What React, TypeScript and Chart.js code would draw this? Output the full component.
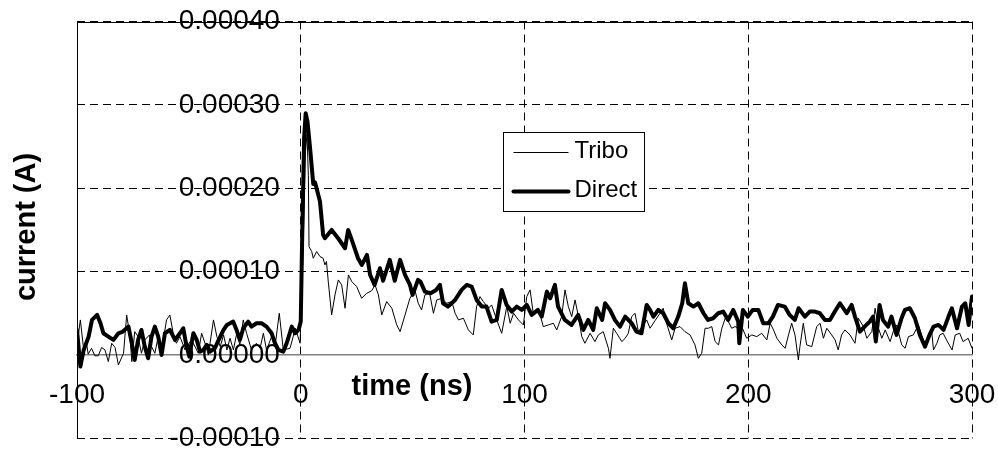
import React, { useEffect, useRef } from "react";
import { Chart, registerables } from "chart.js";

Chart.register(...registerables);

// time in ns, current in units of 1e-5 A
const tDirect = [
  -100, -98.5, -97, -94.8, -93.3, -91, -89.5, -88.2, -86, -83.7, -81.5, -79.5, -77, -75.5, -74.2, -72.7, -71.2,
  -69.7, -68.2, -66.7, -65.2, -63.7, -62.2, -60.7, -58.5, -56.2, -54, -52.5, -51.3, -49.8, -48, -46.5, -45, -43.5,
  -42, -40.6, -38.4, -36, -34.5, -33, -31.6, -30.2, -28.7, -27.2, -25.7, -23.5, -22, -19.8, -17.5, -15.3, -13,
  -11.5, -10, -7.8, -6.3, -4, -2.5, -1, 0, 0.5, 1.5, 2.2, 3, 4.1, 5.6, 6.4, 8.6, 10, 10.8, 13.8, 16.7, 19.8, 21.2,
  22.8, 25.6, 27.3, 29.6, 31, 33, 35.4, 36.8, 39.8, 42, 44.4, 46.6, 48.8, 50, 52.4, 53.5, 55.5, 58, 60.5, 62.2,
  63.6, 65.8, 69, 71.9, 74.2, 76.4, 78.6, 80.9, 83, 85.3, 87.6, 89.8, 92, 94.3, 96.5, 98.8, 101, 103.2, 106, 107.7,
  110, 111.5, 113.6, 115, 118, 121, 124, 126.3, 128.5, 130.7, 132.3, 134.7, 136, 138.2, 140.4, 142.7, 145, 147.9,
  150, 152.3, 154.6, 156.1, 157.6, 159.8, 162, 164.3, 166.5, 168.7, 170.5, 171.7, 173.2, 175.5, 177.7, 180, 182,
  184.3, 186.6, 188.8, 191, 193.3, 195.5, 196, 197.6, 199.8, 202, 204.5, 206.7, 209, 211, 213.3, 216.3, 218.5,
  220.8, 222.5, 225.3, 227.5, 229.8, 232, 234.3, 236.5, 238.7, 241, 242.5, 244, 246.2, 247.7, 249.9, 252, 254.3,
  255.8, 257, 258.7, 260.2, 262.5, 264, 266.3, 268.5, 270, 272.2, 274.5, 276.7, 279, 281, 282.8, 285, 287.3, 289.5,
  291, 293.3, 295.5, 297, 298.5, 300,
];
const direct = [
  3.0, -1.4, 0.6, 2.2, 4.2, 4.8, 3.8, 2.6, 2.2, 1.8, 2.6, 2.8, 3.4, 1.4, -0.6, 1.8, 3.0,
  1.0, -0.4, 2.2, 3.4, 2.2, 0, 2.6, 3.0, 1.8, 2.6, 3.2, 1.4, -0.2, 2.6, 1.8, 0.4, 0.6,
  1.2, 0.4, 0.8, 2.2, 3.0, 3.6, 3.8, 4.0, 3.0, 1.8, 3.2, 4.0, 3.4, 3.8, 3.8, 3.4, 2.6,
  1.4, 0.6, 0.4, 1.4, 3.4, 2.6, 3.0, 4.0, 12, 26, 29, 28, 25, 20.5, 20.7, 18.4, 14.4, 14, 15, 14, 12.8, 15,
  13.8, 11.6, 10.8, 12, 9.6, 8.4, 10.4, 8.9, 11.4, 8.9, 11.4, 9.6, 8.4, 7.2, 9, 8.8, 7.6, 7.4, 7.8, 8.4,
  6.2, 5.8, 6.6, 7.8, 8.4, 8.2, 6.6, 5.8, 5.8, 4.0, 4.2, 7.8, 6.0, 5.2, 5.8, 5.4, 6.0, 4.8, 5.4, 4.6,
  7.6, 6.8, 8.4, 5.8, 4.2, 3.6, 4.8, 3.0, 4.2, 3.0, 5.6, 4.2, 6.2, 5.4, 4.2, 3.4, 4.6, 3.8,
  2.8, 2.6, 6.0, 5.4, 4.6, 5.4, 5.0, 3.8, 3.2, 4.6, 6.2, 8.6, 6.2, 5.8, 6.2, 5.0, 4.2,
  4.4, 5.0, 5.2, 4.2, 5.4, 4.0, 1.4, 5.4, 4.6, 5.4, 5.4, 3.8, 3.8, 4.6, 6.0, 5.8, 4.8,
  4.2, 5.6, 4.6, 5.2, 5.2, 5.0, 4.2, 4.2, 5.2, 6.2, 5.6, 5.0, 6.0, 4.6, 2.8, 3.4, 4.0,
  4.6, 1.6, 6.0, 4.2, 3.4, 4.6, 2.4, 4.4, 5.4, 5.6, 4.4, 2.4, 1.0, 2.4, 3.4, 3.6, 3.0, 4.6,
  5.6, 3.2, 5.8, 6.2, 3.6, 7.0,
];

const tTribo = [
  -99.5, -98.5, -97, -96, -95, -93.5, -92, -90.5, -89, -87.5, -86, -84.5, -83, -81.5, -79.2, -77.8, -76.3, -75.5,
  -74.2, -72.7, -71.2, -69.7, -67.6, -66.7, -65.2, -63.7, -62.2, -60, -58.5, -57, -55.6, -54, -51.7, -49.5, -48,
  -45.8, -44.3, -42.8, -41.3, -39, -37.5, -36, -34.5, -33, -31.6, -30.1, -28.6, -27.2, -25.7, -24.2, -22, -19.8,
  -18.2, -16.7, -15.3, -13, -11.5, -9.6, -7.8, -4.8, -2.4, -0.3, 1, 2, 2.8, 3.4, 3.7, 4.9, 5.6, 7.1, 8.6, 10,
  10.8, 11.5, 12.3, 13.8, 15.3, 16.8, 18.3, 19.8, 21.3, 22.8, 25, 27.2, 29.5, 31.7, 33.2, 34.7, 36.2, 38.4, 40.7,
  42.9, 44.4, 46.6, 48.8, 51, 52.5, 54, 55.5, 57.6, 59.3, 60.8, 63, 65.2, 67.5, 69, 70.5, 72.7, 74.9, 77.1, 78.6,
  80.1, 81.6, 83.9, 85.3, 87.6, 89.8, 92.1, 93.6, 95.1, 97.3, 99.5, 101, 102.5, 104, 106.2, 108.4, 110.7, 112.9,
  114.4, 116.6, 118.1, 119.6, 121.1, 122.6, 124.1, 125.6, 127, 129.3, 131.5, 133, 135.2, 137.5, 138.2, 139.7,
  141.2, 143.5, 145, 146.4, 147.9, 149.4, 150.9, 153.1, 154.6, 156.1, 158.3, 160.6, 162, 163.5, 165.8, 167.3,
  169.5, 171.7, 174, 176.2, 177.7, 179.2, 180.7, 182.2, 183.7, 185.2, 186.7, 188.2, 189.7, 191.1, 192.6, 194.1,
  195.6, 197.1, 199.3, 201.6, 203.8, 206, 208.3, 209.8, 211.3, 212.8, 215, 216.5, 218, 219.4, 220.9, 222.4, 223.1,
  224.6, 226.1, 228.4, 230.6, 232.1, 233.6, 235.1, 237.3, 238.8, 240.2, 241.7, 243.2, 245.5, 247.7, 249.2, 251.5,
  253, 255.2, 256.7, 258.2, 259.7, 261.2, 263.4, 264.8, 266.3, 268.6, 270.1, 271.6, 273.8, 276, 277.5, 279, 280.5,
  282, 282.8, 284.3, 285.6, 287.1, 288.6, 291.1, 292.5, 294.5, 296, 298.3, 300,
];
const tribo = [
  2.2, 4.2, 0.6, 1.8, 0.1, 0.8, -0.1, -0.1, 0.9, 0.6, -0.8, 1.4, 0.9, -1.2, 0.2, 4.8, 2.2, -0.8,
  2.8, 2.2, 0.2, 1.8, 2.4, 1.0, 0.2, 2.2, 0.4, 4.2, 4.8, 2.6, 1.4, 2.2, 0.6, 1.6, 1.4,
  0.2, 2.6, 1.4, 0, 4.2, 2.2, 1.0, 2.4, 0.6, 2.0, 0.6, 2.6, 1.2, 4.2, 2.6, 0.6, 1.4,
  0.8, 2.6, 0.6, 2.2, 1.0, 5.0, 0.6, 0.8, 3.2, 1.4, 12, 24, 26.5, 21.5, 13, 12.4, 11.6, 12.4, 11.8, 11.6,
  10.8, 11.2, 8.8, 4.8, 7.2, 9.0, 8.4, 5.6, 9.6, 8.8, 8.2, 6.8, 7.4, 7.7, 8.4, 7.2, 4.8, 6.4, 5.6,
  3.6, 2.8, 4.8, 6.8, 7.8, 6.2, 5.4, 7.2, 7.4, 5.0, 6.6, 6.8, 6.2, 6.4, 5.0, 4.2, 4.4, 3.0, 2.4, 5.8,
  7.0, 6.4, 5.6, 6.0, 4.2, 2.6, 5.8, 3.8, 5.0, 4.2, 3.6, 7.0, 7.8, 4.8, 5.6, 3.4, 3.6, 3.8,
  3.0, 4.6, 7.8, 5.8, 4.6, 6.6, 4.6, 2.2, 1.4, 2.6, 1.6, 2.4, 2.8, 0.8, -0.4, 3.2,
  2.6, 1.6, 2.0, 2.6, 4.6, 5.0, 2.8, 3.6, 4.2, 3.2, 4.1, 5.0, 5.6, 3.8, 1.8, 3.2,
  3.4, 2.8, 2.4, 1.2, -0.4, 0.2, 3.2, 3.2, 3.4, 1.6, 1.2, 3.2, 4.4, 4.0, 3.2, 3.4,
  3.2, 3.4, 2.0, 2.4, 2.2, 2.6, 1.8, 3.8, 3.0, 2.0, 1.2, 0.8, 2.4, 3.8, 2.4, -0.6, 1.0,
  3.8, 1.2, 1.0, 3.4, 3.8, 2.0, 3.2, 2.4, 1.8, 0.6, 2.4, 3.0, 2.4, 1.4, 4.4, 3.4,
  2.0, 2.8, 5.6, 3.2, 2.0, 3.0, 1.6, 2.8, 3.6, 1.2, 0.8, 2.2, 2.4, 3.6, 2.4, 1.2, 2.2,
  2.8, 0.6, 1.4, 2.4, 2.6, 1.8, 0.6, 2.4, 2.6, 1.6, 2.0, 0.8,
];

const UNIT = 1e-5;
const seriesNames = ["Tribo", "Direct"];
const xTitle = "time (ns)";
const yTitle = "current (A)";
const xMin = -100;
const xMax = 300;
const xStep = 100;
const yMin = -0.0001;
const yMax = 0.0004;
const yStep = 0.0001;

const FONT = "'Liberation Sans', Arial, Helvetica, sans-serif";

const decorPlugin = {
  id: "decor",
  beforeDatasetsDraw(chart: any) {
    const { ctx, chartArea: a } = chart;
    ctx.save();
    ctx.strokeStyle = "#000";
    ctx.lineWidth = 1;
    ctx.setLineDash([]);
    const l = Math.round(a.left) + 0.5;
    const t = Math.round(a.top) + 0.5;
    ctx.beginPath();
    ctx.moveTo(l, a.bottom);
    ctx.lineTo(l, t);
    ctx.lineTo(a.right, t);
    ctx.stroke();
    ctx.restore();
  },
  afterDraw(chart: any) {
    const { ctx } = chart;
    ctx.save();
    ctx.fillStyle = "#000";
    // axis titles
    ctx.font = `bold 29px ${FONT}`;
    ctx.textAlign = "center";
    ctx.textBaseline = "middle";
    ctx.fillText(xTitle, 412, 387);
    ctx.save();
    ctx.translate(27, 227);
    ctx.rotate(-Math.PI / 2);
    ctx.fillText(yTitle, 0, 0);
    ctx.restore();

    // legend
    const bx = 503.5, by = 132.5, bw = 141, bh = 79;
    ctx.fillStyle = "#fff";
    ctx.fillRect(bx, by, bw, bh);
    ctx.strokeStyle = "#000";
    ctx.lineWidth = 1;
    ctx.strokeRect(bx, by, bw, bh);
    const rows = [
      { y: 152, w: 1 },
      { y: 191, w: 4 },
    ];
    chart.data.datasets.forEach((ds: any, i: number) => {
      const r = rows[i];
      ctx.strokeStyle = ds.borderColor;
      ctx.lineWidth = r.w;
      ctx.lineCap = r.w > 1 ? "round" : "butt";
      ctx.beginPath();
      ctx.moveTo(bx + 10, r.y + 0.5);
      ctx.lineTo(bx + 65, r.y + 0.5);
      ctx.stroke();
      ctx.fillStyle = "#000";
      ctx.font = `24px ${FONT}`;
      ctx.textAlign = "left";
      ctx.textBaseline = "middle";
      ctx.fillText(ds.label, bx + 71, r.y - 1);
    });
    ctx.restore();
  },
};

export default function App() {
  const ref = useRef<HTMLCanvasElement | null>(null);
  useEffect(() => {
    if (!ref.current) return;
    const zeroPad = (s: any) => {
      s.paddingTop = 0;
      s.paddingBottom = 0;
      s.paddingLeft = 0;
      s.paddingRight = 0;
    };
    const chart = new Chart(ref.current, {
      type: "line",
      data: {
        datasets: [
          {
            label: seriesNames[0],
            data: tTribo.map((t, i) => ({ x: t, y: tribo[i] * UNIT })),
            borderColor: "#000",
            borderWidth: 1,
            pointRadius: 0,
            tension: 0,
          },
          {
            label: seriesNames[1],
            data: tDirect.map((t, i) => ({ x: t, y: direct[i] * UNIT })),
            borderColor: "#000",
            borderWidth: 4,
            borderJoinStyle: "round",
            borderCapStyle: "round",
            pointRadius: 0,
            tension: 0,
          },
        ],
      },
      options: {
        animation: false,
        responsive: true,
        maintainAspectRatio: false,
        layout: { padding: { left: 77, right: 26, top: 21.5, bottom: 12.7 } },
        plugins: { legend: { display: false }, tooltip: { enabled: false } },
        scales: {
          x: {
            type: "linear",
            min: xMin,
            max: xMax,
            position: { y: 0 },
            afterFit: zeroPad,
            ticks: {
              stepSize: xStep,
              color: "#000",
              padding: 24,
              maxRotation: 0,
              font: { family: FONT, size: 28 },
              callback: (v: any) => String(v),
            },
            grid: { color: "#000", lineWidth: 1, drawTicks: false },
            border: { display: true, color: "#808080", width: 1.5, dash: [8, 5] },
          },
          y: {
            type: "linear",
            min: yMin,
            max: yMax,
            // labels sit ~20px left of the x=0 line, as in the original
            position: { x: -9.3 },
            afterFit: zeroPad,
            ticks: {
              stepSize: yStep,
              color: "#000",
              padding: 0,
              font: { family: FONT, size: 28 },
              callback: (v: any) => Number(v).toFixed(5),
            },
            grid: {
              color: (c: any) => (c.tick && Math.abs(c.tick.value) < 1e-12 ? "rgba(0,0,0,0)" : "#000"),
              lineWidth: 1,
              drawTicks: false,
            },
            border: { display: false, dash: [8, 5] },
          },
        },
      } as any,
      plugins: [decorPlugin],
    });
    return () => chart.destroy();
  }, []);
  return (
    <div style={{ position: "fixed", left: 0, top: 0, width: 998, height: 451, background: "#fff" }}>
      <canvas ref={ref} />
    </div>
  );
}
